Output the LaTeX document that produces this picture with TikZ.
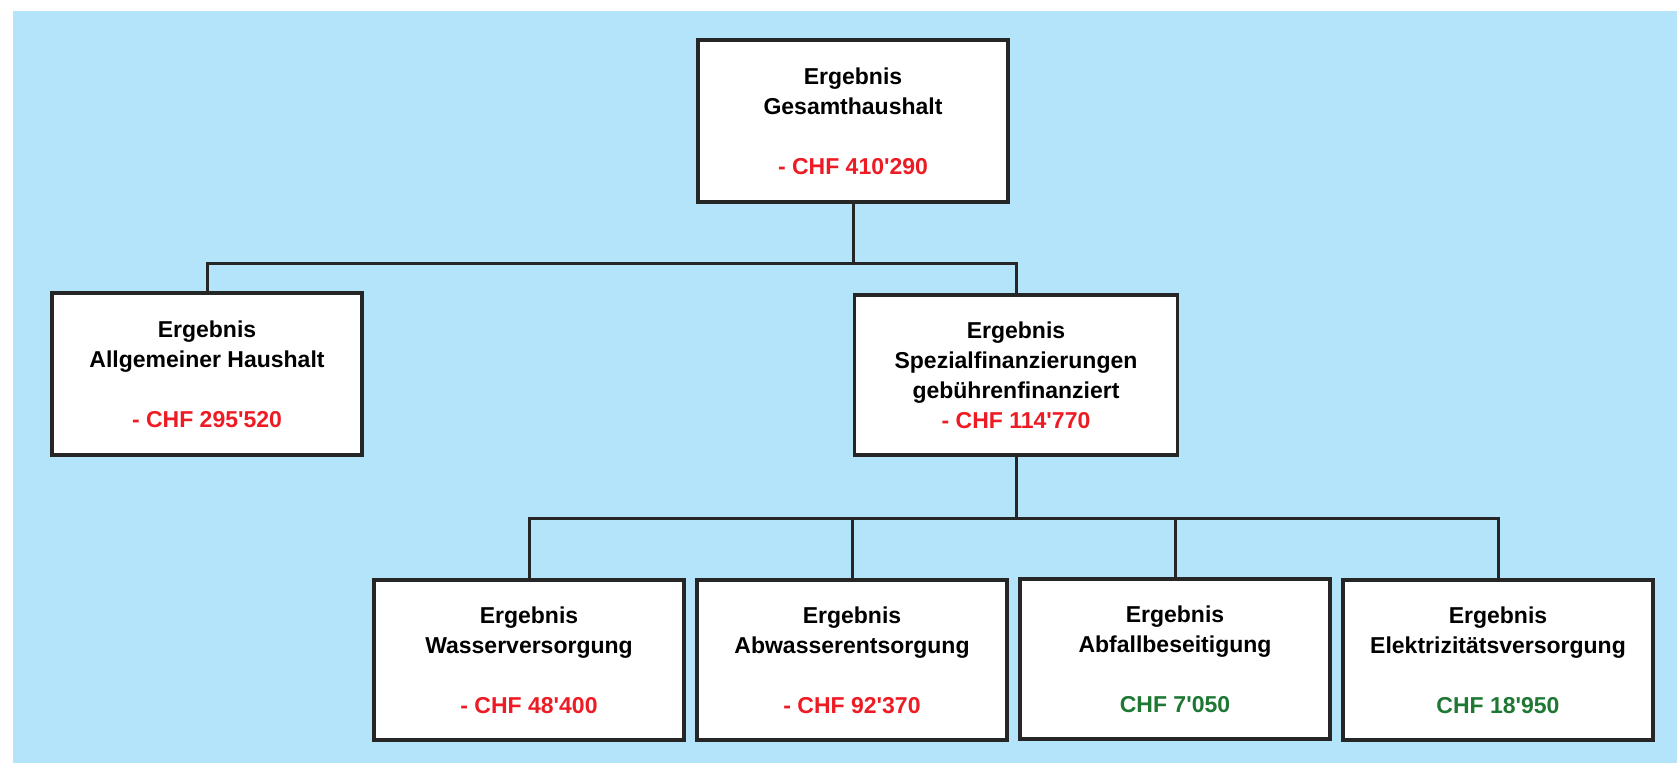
\documentclass[tikz,border=0pt]{standalone}
\usepackage{fontspec}
\setmainfont{Liberation Sans}
\definecolor{hintergrund}{RGB}{180,228,249}
\definecolor{minus}{RGB}{237,28,36}
\definecolor{plus}{RGB}{30,120,52}
\begin{document}
\begin{tikzpicture}[x=0.5pt,y=-0.5pt]
  \tikzstyle{konto}=[draw=black!85, line width=1.6pt, fill=white, align=center, inner sep=0pt,
    minimum width=155pt, minimum height=80pt, font=\fontsize{11.5}{15}\selectfont\bfseries]
  \tikzstyle{linie}=[draw=black!85, line width=1.5pt]
  \fill[white] (0,0) rectangle (1677,763);
  \fill[hintergrund] (13,11) rectangle (1677,763);
  % Ebene 1
  \node[konto, minimum height=81pt] (gesamt) at (853,121)
    {Ergebnis\\Gesamthaushalt\\[15pt]\textcolor{minus}{- CHF 410\textquotesingle 290}};
  % Ebene 2
  \node[konto, minimum height=81pt] (allg) at (207,374)
    {Ergebnis\\Allgemeiner Haushalt\\[15pt]\textcolor{minus}{- CHF 295\textquotesingle 520}};
  \node[konto, minimum width=161.5pt] (spez) at (1016,375)
    {Ergebnis\\Spezialfinanzierungen\\gebührenfinanziert\\\textcolor{minus}{- CHF 114\textquotesingle 770}};
  % Ebene 3
  \node[konto] (wasser) at (529,660)
    {Ergebnis\\Wasserversorgung\\[15pt]\textcolor{minus}{- CHF 48\textquotesingle 400}};
  \node[konto] (abwasser) at (852,660)
    {Ergebnis\\Abwasserentsorgung\\[15pt]\textcolor{minus}{- CHF 92\textquotesingle 370}};
  \node[konto] (abfall) at (1175,659)
    {Ergebnis\\Abfallbeseitigung\\[15pt]\textcolor{plus}{CHF 7\textquotesingle 050}};
  \node[konto] (elektr) at (1498,660)
    {Ergebnis\\Elektrizitätsversorgung\\[15pt]\textcolor{plus}{CHF 18\textquotesingle 950}};
  % Verbindungen
  \draw[linie] (gesamt.south) -- ++(0,60) -| (allg.north);
  \draw[linie] (gesamt.south) -- ++(0,60) -| (spez.north);
  \draw[linie] (spez.south) -- ++(0,62) -| (wasser.north);
  \draw[linie] (spez.south) -- ++(0,62) -| (abwasser.north);
  \draw[linie] (spez.south) -- ++(0,62) -| (abfall.north);
  \draw[linie] (spez.south) -- ++(0,62) -| (elektr.north);
\end{tikzpicture}
\end{document}
